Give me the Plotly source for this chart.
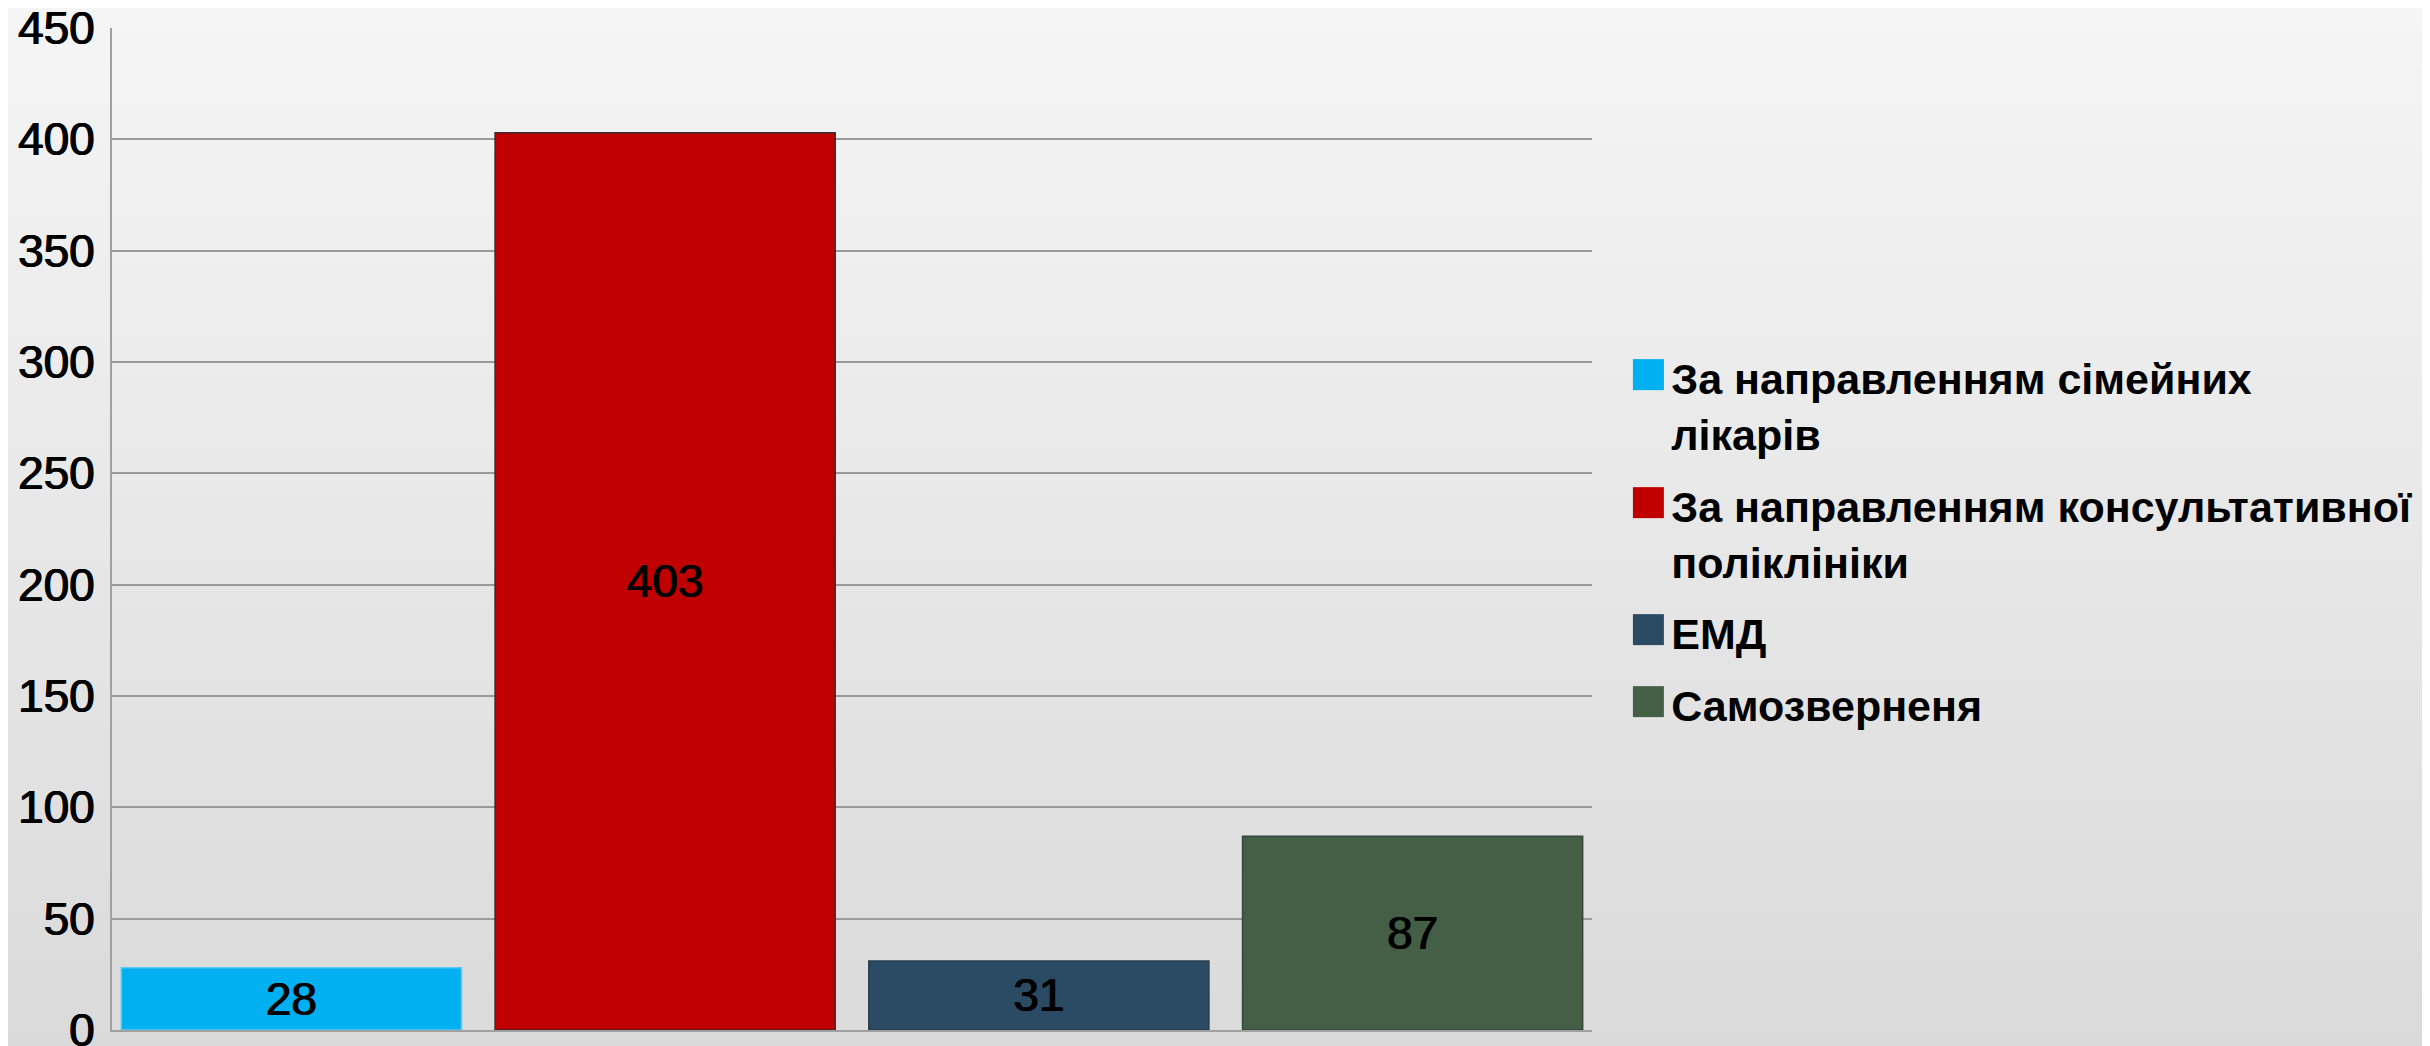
import base64, struct, zlib
import plotly.graph_objects as go

categories = ["За направленням сімейних<br>лікарів",
              "За направленням консультативної<br>поліклініки",
              "ЕМД",
              "Самозверненя"]
values = [28, 403, 31, 87]
colors = ["#00b0f0", "#c00000", "#2b4a64", "#455f46"]
outlines = ["#5cc8f0", "#3a2a2a", "#2a3c4c", "#35463a"]
y_ticks = [0, 50, 100, 150, 200, 250, 300, 350, 400, 450]

W, H = 2430, 1046
L, T = 104, 20
R, B = W - 1584, H - 1022
pw, ph = W - L - R, H - T - B

NUM_FONT = "Liberation Sans, Arial, sans-serif"
LEG_FONT = "Liberation Sans, Arial, sans-serif"
THICK = "0.6px 0 0 #000, -0.6px 0 0 #000"
SQ_STYLE = "font-size:64px"
GAP = "\u200a"


def gradient_png(top, bottom, n=256):
    rows = b""
    for i in range(n):
        t = i / (n - 1)
        c = [round(top[k] + (bottom[k] - top[k]) * t) for k in range(3)]
        rows += b"\x00" + bytes(c)
    def chunk(tag, data):
        return struct.pack(">I", len(data)) + tag + data + struct.pack(">I", zlib.crc32(tag + data) & 0xffffffff)
    png = b"\x89PNG\r\n\x1a\n" + chunk(b"IHDR", struct.pack(">IIBBBBB", 1, n, 8, 2, 0, 0, 0)) \
        + chunk(b"IDAT", zlib.compress(rows)) + chunk(b"IEND", b"")
    return "data:image/png;base64," + base64.b64encode(png).decode()


def legend_label(name, color):
    lines = name.split("<br>")
    out = [f'<span style="color:{color};{SQ_STYLE}">■</span>{GAP}{lines[0]}']
    for ln in lines[1:]:
        out.append(f'<span style="color:rgba(0,0,0,0);{SQ_STYLE}">■</span>{GAP}{ln}')
    return "<br>".join(out)


fig = go.Figure()
for i, (cat, v) in enumerate(zip(categories, values)):
    fig.add_trace(go.Bar(
        x=[str(i)], y=[v], name=cat.replace("<br>", " "), showlegend=False, legendgroup=str(i),
        marker=dict(color=colors[i], line=dict(color=outlines[i], width=1.5)),
        text=[str(v)], textposition="inside", insidetextanchor="middle",
        textfont=dict(family=NUM_FONT, size=46, color="black", shadow=THICK),
        constraintext="none",
    ))
# legend entries: coloured square glyph + label (legend symbol itself transparent)
for i, cat in enumerate(categories):
    fig.add_trace(go.Scatter(
        x=[None], y=[None], mode="markers", name=legend_label(cat, colors[i]),
        legendgroup=str(i),
        marker=dict(symbol="square", size=10, color="rgba(0,0,0,0)"),
        hoverinfo="skip",
    ))

fig.update_layout(
    width=W, height=H,
    margin=dict(l=L, r=R, t=T, b=B, pad=0, autoexpand=False),
    barmode="overlay", bargap=0.09,
    paper_bgcolor="#ececec", plot_bgcolor="#e6e6e6",
    showlegend=True,
    legend=dict(
        x=0.998, xanchor="left", y=0.686, yanchor="top",
        font=dict(family=LEG_FONT, size=43, color="black", weight="bold"),
        bgcolor="rgba(0,0,0,0)", traceorder="grouped", tracegroupgap=13,
    ),
    images=[dict(
        source=gradient_png((245, 245, 245), (218, 218, 218)),
        xref="paper", yref="paper",
        x=-L / pw, y=1 + T / ph, sizex=W / pw, sizey=H / ph,
        xanchor="left", yanchor="top", sizing="stretch", layer="below",
    )],
)
fig.update_xaxes(showticklabels=False, ticks="", showgrid=False, automargin=False,
                 range=[-0.48, 3.48],
                 showline=True, linecolor="#a0a0a0", linewidth=2, zeroline=False)
fig.update_yaxes(range=[0, 450], tickvals=y_ticks, ticktext=[str(t) for t in y_ticks],
                 showgrid=True, gridcolor="#9a9a9a", gridwidth=1.5, automargin=False,
                 showline=True, linecolor="#a0a0a0", linewidth=2, zeroline=False,
                 ticks="", ticklabelstandoff=6, ticklabeloverflow="allow",
                 tickfont=dict(family=NUM_FONT, size=46, color="black", shadow=THICK))

fig.write_html("out.html")
